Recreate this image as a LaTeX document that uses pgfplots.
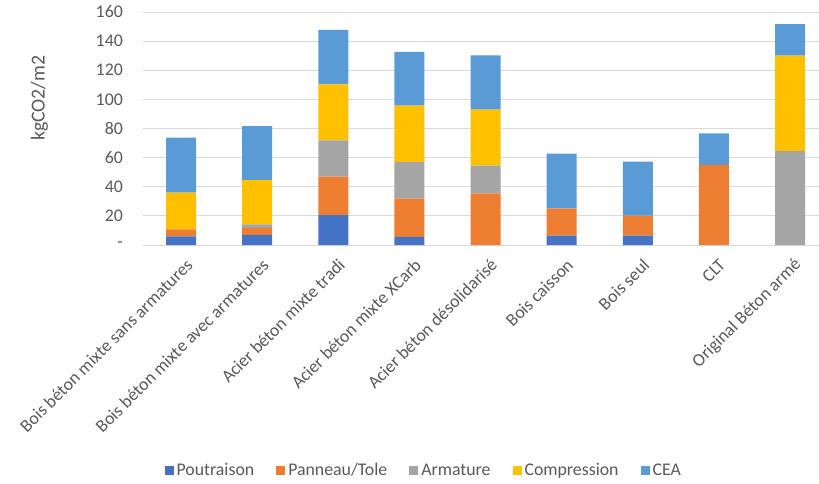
\documentclass[border=0pt]{standalone}
\usepackage{fontspec}
\setmainfont{Carlito}
\usepackage{pgfplots}
\usepackage{pgfplotstable}
\pgfplotsset{compat=1.18}

\definecolor{cPout}{HTML}{4472C4}
\definecolor{cPan}{HTML}{ED7D31}
\definecolor{cArm}{HTML}{A5A5A5}
\definecolor{cComp}{HTML}{FFC000}
\definecolor{cCEA}{HTML}{5B9BD5}
\definecolor{txt}{HTML}{595959}
\definecolor{grd}{HTML}{D9D9D9}

% kgCO2/m2 per floor variant, split by component
\pgfplotstableread{
x Pout Pan Arm Comp CEA
0 6.0  4.8  0.0  25.1 37.8
1 7.0  4.8  2.3  30.4 37.1
2 20.6 26.3 25.0 38.4 37.5
3 5.5  26.3 25.2 38.7 37.0
4 0.0  35.5 19.0 38.4 37.3
5 6.4  18.8 0.0  0.0  37.5
6 6.4  13.7 0.0  0.0  37.1
7 0.0  55.1 0.0  0.0  21.5
8 0.0  0.0  64.5 65.5 21.7
}\datatable

\begin{document}
\begin{tikzpicture}
\path[use as bounding box] (0,0) rectangle (819pt,483pt);
\begin{axis}[
  at={(143pt,238pt)}, anchor=south west,
  scale only axis, width=676pt, height=233pt,
  ybar stacked, bar width=30pt,
  xmin=-0.5, xmax=8.38, ymin=0, ymax=160,
  enlargelimits=false,
  axis x line*=bottom, axis y line*=left,
  x axis line style={draw=grd, line width=1pt},
  y axis line style={draw=none},
  tick style={draw=none},
  ymajorgrids, grid style={draw=grd, line width=1pt},
  ytick={0,20,...,160},
  yticklabels={-\hspace{9pt},20,40,60,80,100,120,140,160},
  xtick={0,...,8},
  xticklabels={Bois béton mixte sans armatures,Bois béton mixte avec armatures,Acier béton mixte tradi,Acier béton mixte XCarb,Acier béton désolidarisé,Bois caisson,Bois seul,CLT,Original Béton armé},
  /pgf/number format/assume math mode=true,
  ticklabel style={font=\fontsize{17.8}{20}\selectfont, text=txt},
  yticklabel style={anchor=east, inner sep=0pt, xshift=-20pt},
  xticklabel style={rotate=45, anchor=east, inner sep=0pt, xshift=-6pt, yshift=-18pt},
  ylabel={kgCO2/m2},
  ylabel style={font=\fontsize{19.8}{22}\selectfont, text=txt, at={(axis description cs:-0.153,0.63)}, anchor=center, rotate=0},
  legend columns=5,
  legend style={at={(axis description cs:0.416,-0.966)}, anchor=center, draw=none, fill=none,
    font=\fontsize{17.8}{20}\selectfont, text=txt,
    /tikz/every even column/.append style={column sep=19pt},
    nodes={inner sep=3pt}},
  legend image code/.code={\fill[#1] (0pt,-4.5pt) rectangle (9pt,4.5pt);},
]
\addplot[fill=cPout, draw=none] table[x=x, y=Pout] {\datatable};
\addplot[fill=cPan, draw=none] table[x=x, y=Pan] {\datatable};
\addplot[fill=cArm, draw=none] table[x=x, y=Arm] {\datatable};
\addplot[fill=cComp, draw=none] table[x=x, y=Comp] {\datatable};
\addplot[fill=cCEA, draw=none] table[x=x, y=CEA] {\datatable};
\legend{Poutraison, Panneau/Tole, Armature, Compression, CEA}
\end{axis}
\end{tikzpicture}
\end{document}
